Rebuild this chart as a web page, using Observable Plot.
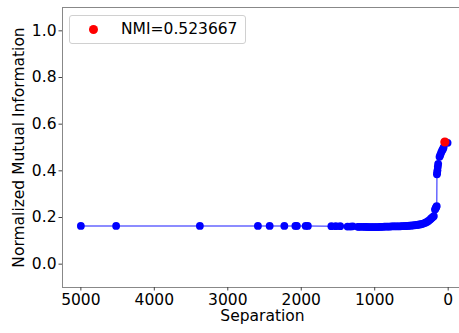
<!DOCTYPE html>
<html>
<head>
<meta charset="utf-8">
<script src="https://cdn.jsdelivr.net/npm/d3@7"></script>
<script src="https://cdn.jsdelivr.net/npm/@observablehq/plot@0.6"></script>
<style>
  html, body { margin: 0; padding: 0; background: #fff; overflow: hidden; }
  #wrap { position: relative; width: 459px; height: 333px; overflow: hidden; }
  #chart svg { max-width: none !important; }
  #legend { position: absolute; left: 69px; top: 15px; width: 175px; height: 27px;
    border: 1px solid #d0d0d0; border-radius: 3px; background: rgba(255,255,255,0.8);
    font-family: "DejaVu Sans", sans-serif; font-size: 15.5px; color: #000; }
  #legend .dot { position: absolute; left: 19px; top: 9px; width: 9px; height: 9px; border-radius: 50%; background: red; }
  #legend .txt { position: absolute; left: 51px; top: 3px; line-height: 20px; white-space: nowrap; }
</style>
</head>
<body>
<div id="wrap">
  <div id="chart"></div>
  <div id="legend"><div class="dot"></div><div class="txt"></div></div>
</div>
<script>
const separation = [5000, 4520, 3380, 2590, 2430, 2230, 2080, 2060, 1940, 1910,
  1590, 1530, 1470, 1370, 1330, 1300, 1230, 1210, 1180, 1150, 1130, 1110, 1090, 1070,
  1050, 1030, 1010, 990, 970, 950, 930, 910, 890, 870, 850, 830, 810, 790, 770, 750,
  730, 710, 690, 670, 650, 630, 610, 590, 570, 550, 530, 510, 490, 470, 450, 430,
  410, 390, 370, 350, 330, 310, 290, 270, 250, 235, 220, 205, 195, 180, 170, 162, 156,
  153, 150, 146, 141, 136, 118, 108, 96, 84, 72, 62, 45, 8];
const nmi = [0.164, 0.164, 0.164, 0.164, 0.164, 0.164, 0.164, 0.164, 0.164, 0.164,
  0.163, 0.163, 0.163, 0.161, 0.161, 0.162, 0.160, 0.160, 0.160, 0.160, 0.160, 0.160, 0.159, 0.159,
  0.159, 0.159, 0.159, 0.159, 0.159, 0.159, 0.160, 0.160, 0.160, 0.161, 0.161, 0.161, 0.161, 0.161, 0.162, 0.162,
  0.162, 0.162, 0.162, 0.162, 0.162, 0.163, 0.163, 0.163, 0.164, 0.164, 0.165, 0.165, 0.166, 0.166, 0.167, 0.168,
  0.169, 0.170, 0.171, 0.173, 0.175, 0.178, 0.181, 0.185, 0.190, 0.195, 0.199, 0.203, 0.206, 0.234, 0.240, 0.245, 0.249,
  0.385, 0.392, 0.402, 0.418, 0.430, 0.460, 0.468, 0.478, 0.486, 0.493, 0.500, 0.524, 0.520];
const bestSeparation = [45];
const bestNmi = [0.523667];
const xTicks = [5000, 4000, 3000, 2000, 1000, 0];
const yTicks = [0.0, 0.2, 0.4, 0.6, 0.8, 1.0];
const xLabel = "Separation";
const yLabel = "Normalized Mutual Information";
const legendLabel = "NMI=0.523667";

const data = separation.map((s, i) => ({s, v: nmi[i]}));
const best = bestSeparation.map((s, i) => ({s, v: bestNmi[i]}));
const FS = "15.5px";

const chart = Plot.plot({
  width: 466,
  height: 333,
  marginLeft: 62,
  marginRight: 4,
  marginTop: 7,
  marginBottom: 46,
  style: {fontFamily: "'DejaVu Sans', sans-serif", fontSize: FS, color: "#000", background: "#fff", overflow: "visible", maxWidth: "none"},
  x: {domain: [5250, -195]},
  y: {domain: [-0.1, 1.1]},
  marks: [
    Plot.frame({stroke: "#888", strokeWidth: 1}),
    Plot.axisX({ticks: xTicks, tickFormat: d3.format("d"), tickSize: 3.5, tickPadding: 3, fontSize: FS,
      label: null, stroke: "#444", fill: "#000"}),
    Plot.axisY({ticks: yTicks, tickFormat: d3.format(".1f"), tickSize: 3.5, tickPadding: 2.5, fontSize: FS,
      label: null, stroke: "#444", fill: "#000"}),
    Plot.text([xLabel], {frameAnchor: "bottom", dy: 29, lineAnchor: "middle", textAnchor: "middle", fontSize: FS, fill: "#000"}),
    Plot.text([yLabel], {frameAnchor: "left", dx: -43, rotate: -90, lineAnchor: "middle", textAnchor: "middle", fontSize: FS, fill: "#000"}),
    Plot.line(data, {x: "s", y: "v", stroke: "blue", strokeOpacity: 0.6, strokeWidth: 1.5}),
    Plot.dot(data, {x: "s", y: "v", fill: "blue", r: 3.9, stroke: "none"}),
    Plot.dot(best, {x: "s", y: "v", fill: "red", r: 4.6, stroke: "none"})
  ]
});
document.getElementById("chart").appendChild(chart);
document.querySelector("#legend .txt").textContent = legendLabel;
</script>
</body>
</html>
